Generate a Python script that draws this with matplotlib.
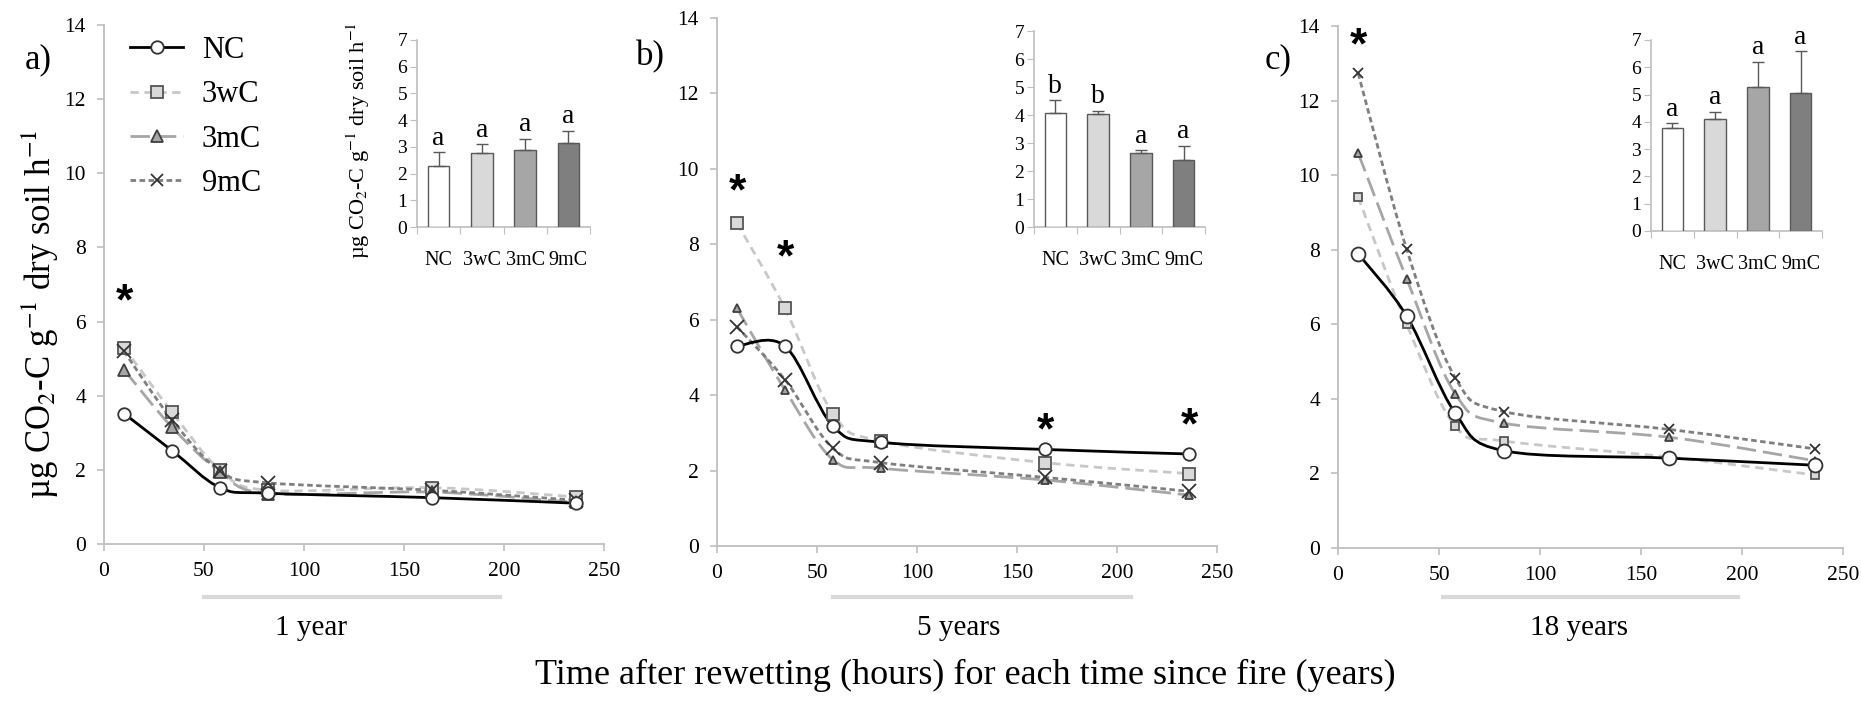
import numpy as np
import matplotlib
matplotlib.use("Agg")
import matplotlib.pyplot as plt
from matplotlib.path import Path
from matplotlib.patches import PathPatch
from matplotlib.lines import Line2D
from matplotlib.transforms import blended_transform_factory

plt.rcParams["font.family"] = ["Liberation Serif", "DejaVu Serif"]
plt.rcParams["mathtext.fontset"] = "stix"
plt.rcParams["lines.scale_dashes"] = False

# -----------------------------
# Data
# -----------------------------
hours = [10, 34, 58, 82, 164, 236]
treatments = ["NC", "3wC", "3mC", "9mC"]

# panel a) 1 year
a_nc = [3.52, 2.52, 1.52, 1.37, 1.25, 1.10]
a_3wc = [5.30, 3.56, 2.00, 1.45, 1.52, 1.27]
a_3mc = [4.70, 3.15, 1.95, 1.36, 1.40, 1.12]
a_9mc = [5.20, 3.35, 1.97, 1.65, 1.45, 1.18]
# panel b) 5 years
b_nc = [5.30, 5.30, 3.18, 2.75, 2.56, 2.44]
b_3wc = [8.56, 6.30, 3.51, 2.78, 2.21, 1.92]
b_3mc = [6.30, 4.14, 2.29, 2.06, 1.75, 1.35]
b_9mc = [5.81, 4.41, 2.59, 2.21, 1.82, 1.45]
# panel c) 18 years
c_nc = [7.89, 6.22, 3.62, 2.61, 2.41, 2.22]
c_3wc = [9.41, 6.00, 3.27, 2.87, 2.44, 1.96]
c_3mc = [10.59, 7.22, 4.14, 3.35, 2.97, 2.34]
c_9mc = [12.73, 8.01, 4.57, 3.66, 3.18, 2.66]

# significance asterisks (hour, y)
a_star_x, a_star_y = [10], [6.75]
b_star_x, b_star_y = [10, 34, 164, 236], [9.62, 7.87, 3.27, 3.41]
c_star_x, c_star_y = [10], [13.68]

# inset bars: cumulative mean and error
a_bar = [2.28, 2.76, 2.90, 3.13]
a_err = [0.52, 0.34, 0.41, 0.47]
a_let = ["a", "a", "a", "a"]
b_bar = [4.07, 4.04, 2.64, 2.39]
b_err = [0.46, 0.11, 0.10, 0.51]
b_let = ["b", "b", "a", "a"]
c_bar = [3.76, 4.10, 5.26, 5.04]
c_err = [0.20, 0.27, 0.95, 1.56]
c_let = ["a", "a", "a", "a"]

year_labels = ["1 year", "5 years", "18 years"]

# -----------------------------
# Styles
# -----------------------------
W, H = 1861, 702
AX_GRAY = "#bfbfbf"
series_style = {
    "NC": dict(color="black", ls="solid", lw=2.0, marker="o", mfc="white", mec="#333333", z=5),
    "3wC": dict(color="#c8c8c8", ls=(0, (6, 4)), lw=2.0, marker="s", mfc="#d9d9d9", mec="#555555", z=3),
    "3mC": dict(color="#a6a6a6", ls=(0, (14, 5)), lw=2.0, marker="^", mfc="#a6a6a6", mec="#404040", z=3),
    "9mC": dict(color="#7f7f7f", ls=(0, (4, 2.5)), lw=2.0, marker="x", mfc="#333333", mec="#333333", z=4),
}
bar_colors = ["white", "#d9d9d9", "#a6a6a6", "#7f7f7f"]


def px_rect(l, t, r, b):
    return [l / W, 1 - b / H, (r - l) / W, (b - t) / H]


def smooth_path(xs, ys):
    # Excel-style smoothed line: cubic Bezier segments through the points
    pts = np.column_stack([xs, ys]).astype(float)
    n = len(pts)
    verts = [pts[0]]
    codes = [Path.MOVETO]
    for i in range(n - 1):
        p0 = pts[i - 1] if i > 0 else pts[i]
        p1, p2 = pts[i], pts[i + 1]
        p3 = pts[i + 2] if i + 2 < n else pts[i + 1]
        verts += [p1 + (p2 - p0) / 6, p2 - (p3 - p1) / 6, p2]
        codes += [Path.CURVE4] * 3
    return Path(verts, codes)


fig = plt.figure(figsize=(W / 100, H / 100), dpi=100)

panels = [
    dict(rect=px_rect(104, 25, 604, 544), inset=px_rect(417, 40, 590, 227),
         series=[a_nc, a_3wc, a_3mc, a_9mc], ms=[9, 9, 9, 10],
         stars=(a_star_x, a_star_y), bars=(a_bar, a_err, a_let),
         label="a)", label_xy=(38, 60), line=(50, 198), year_xy=(311, 628)),
    dict(rect=px_rect(717, 18, 1217, 546), inset=px_rect(1034, 31, 1205, 227),
         series=[b_nc, b_3wc, b_3mc, b_9mc], ms=[9, 9, 6, 10],
         stars=(b_star_x, b_star_y), bars=(b_bar, b_err, b_let),
         label="b)", label_xy=(650, 57), line=(58, 207), year_xy=(959, 628)),
    dict(rect=px_rect(1338, 26, 1843, 548), inset=px_rect(1651, 40, 1822, 231),
         series=[c_nc, c_3wc, c_3mc, c_9mc], ms=[10, 6, 6, 7],
         stars=(c_star_x, c_star_y), bars=(c_bar, c_err, c_let),
         label="c)", label_xy=(1278, 60), line=(52, 198), year_xy=(1579, 628)),
]

for k, p in enumerate(panels):
    ax = fig.add_axes(p["rect"])
    ax.set_xlim(0, 250)
    ax.set_ylim(0, 14)
    ax.set_xticks(range(0, 251, 50))
    ax.set_yticks(range(0, 15, 2))
    for s in ["top", "right"]:
        ax.spines[s].set_visible(False)
    for s in ["left", "bottom"]:
        ax.spines[s].set_color(AX_GRAY)
        ax.spines[s].set_linewidth(1.3)
    ax.tick_params(direction="out", length=5, width=1.2, color=AX_GRAY,
                   labelsize=15.5, pad=8)

    # smoothed lines first, markers on top
    for name, ys in zip(treatments, p["series"]):
        st = series_style[name]
        patch = PathPatch(smooth_path(hours, ys), fill=False, edgecolor=st["color"],
                          linestyle=st["ls"], linewidth=st["lw"], zorder=st["z"])
        ax.add_patch(patch)
    for name, ys, ms in zip(treatments, p["series"], p["ms"]):
        st = series_style[name]
        ax.plot(hours, ys, ls="none", marker=st["marker"], ms=ms, mfc=st["mfc"],
                mec=st["mec"], mew=1.3, zorder=st["z"] + 5, clip_on=False)

    sx, sy = p["stars"]
    for x, y in zip(sx, sy):
        ax.text(x, y - 0.25, "*", ha="center", va="center", fontsize=32,
                fontweight="bold", family="Liberation Sans")

    # gray line under the x axis and time-since-fire label
    tr = blended_transform_factory(ax.transData, fig.transFigure)
    ax.plot(list(p["line"]), [1 - 597 / H] * 2, color="#d9d9d9", lw=3,
            transform=tr, clip_on=False)
    fig.text(p["year_xy"][0] / W, 1 - p["year_xy"][1] / H, year_labels[k],
             ha="center", va="center", fontsize=21)
    fig.text(p["label_xy"][0] / W, 1 - p["label_xy"][1] / H, p["label"],
             ha="center", va="center", fontsize=25)

    # inset bar chart
    ia = fig.add_axes(p["inset"])
    means, errs, lets = p["bars"]
    xpos = np.arange(len(treatments)) + 0.5
    ia.bar(xpos, means, width=0.5, color=bar_colors, edgecolor="#595959",
           linewidth=1.0, zorder=3)
    ia.errorbar(xpos, means, yerr=[np.zeros(len(errs)), errs], fmt="none",
                ecolor="#595959", elinewidth=1.0, capsize=4, capthick=1.0, zorder=4)
    for x, m, e, t in zip(xpos, means, errs, lets):
        ia.text(x, m + e + 0.05, t, ha="center", va="bottom", fontsize=20)
    ia.set_xlim(0, 4)
    ia.set_ylim(0, 7)
    ia.set_yticks(range(0, 8))
    ia.set_xticks(range(0, 5))
    ia.set_xticklabels([])
    ia.set_xticks(xpos, minor=True)
    ia.set_xticklabels(treatments, minor=True)
    ia.tick_params(axis="x", which="minor", length=0, labelsize=14.5, pad=17)
    ia.tick_params(axis="x", which="major", length=5, color=AX_GRAY, direction="out")
    ia.tick_params(axis="y", length=5, color=AX_GRAY, direction="out", labelsize=14, pad=2)
    ia.patch.set_alpha(0)
    for s in ["top", "right"]:
        ia.spines[s].set_visible(False)
    for s in ["left", "bottom"]:
        ia.spines[s].set_color(AX_GRAY)
        ia.spines[s].set_linewidth(1.2)

# inset y label (panel a only)
fig.text(358 / W, 1 - 140 / H, r"µg CO$_2$-C g$^{-1}$ dry soil h$^{-1}$",
         rotation=90, ha="center", va="center", fontsize=16)

# main labels
fig.text(40 / W, 1 - 314 / H, r"µg CO$_2$-C g$^{-1}$ dry soil h$^{-1}$",
         rotation=90, ha="center", va="center", fontsize=25)
fig.text(965 / W, 1 - 675 / H,
         "Time after rewetting (hours) for each time since fire (years)",
         ha="center", va="center", fontsize=26)

# legend
handles = []
for name in treatments:
    st = series_style[name]
    handles.append(Line2D([], [], color=st["color"], ls=st["ls"], lw=st["lw"],
                          marker=st["marker"], ms=9, mfc=st["mfc"], mec=st["mec"], mew=1.3))
fig.legend(handles, treatments, loc="upper left", bbox_to_anchor=(130 / W, 1 - 36 / H),
           frameon=False, fontsize=22, handlelength=1.75, handletextpad=0.6,
           labelspacing=0.5, borderpad=0, borderaxespad=0)

fig.savefig("out.png", dpi=100)
